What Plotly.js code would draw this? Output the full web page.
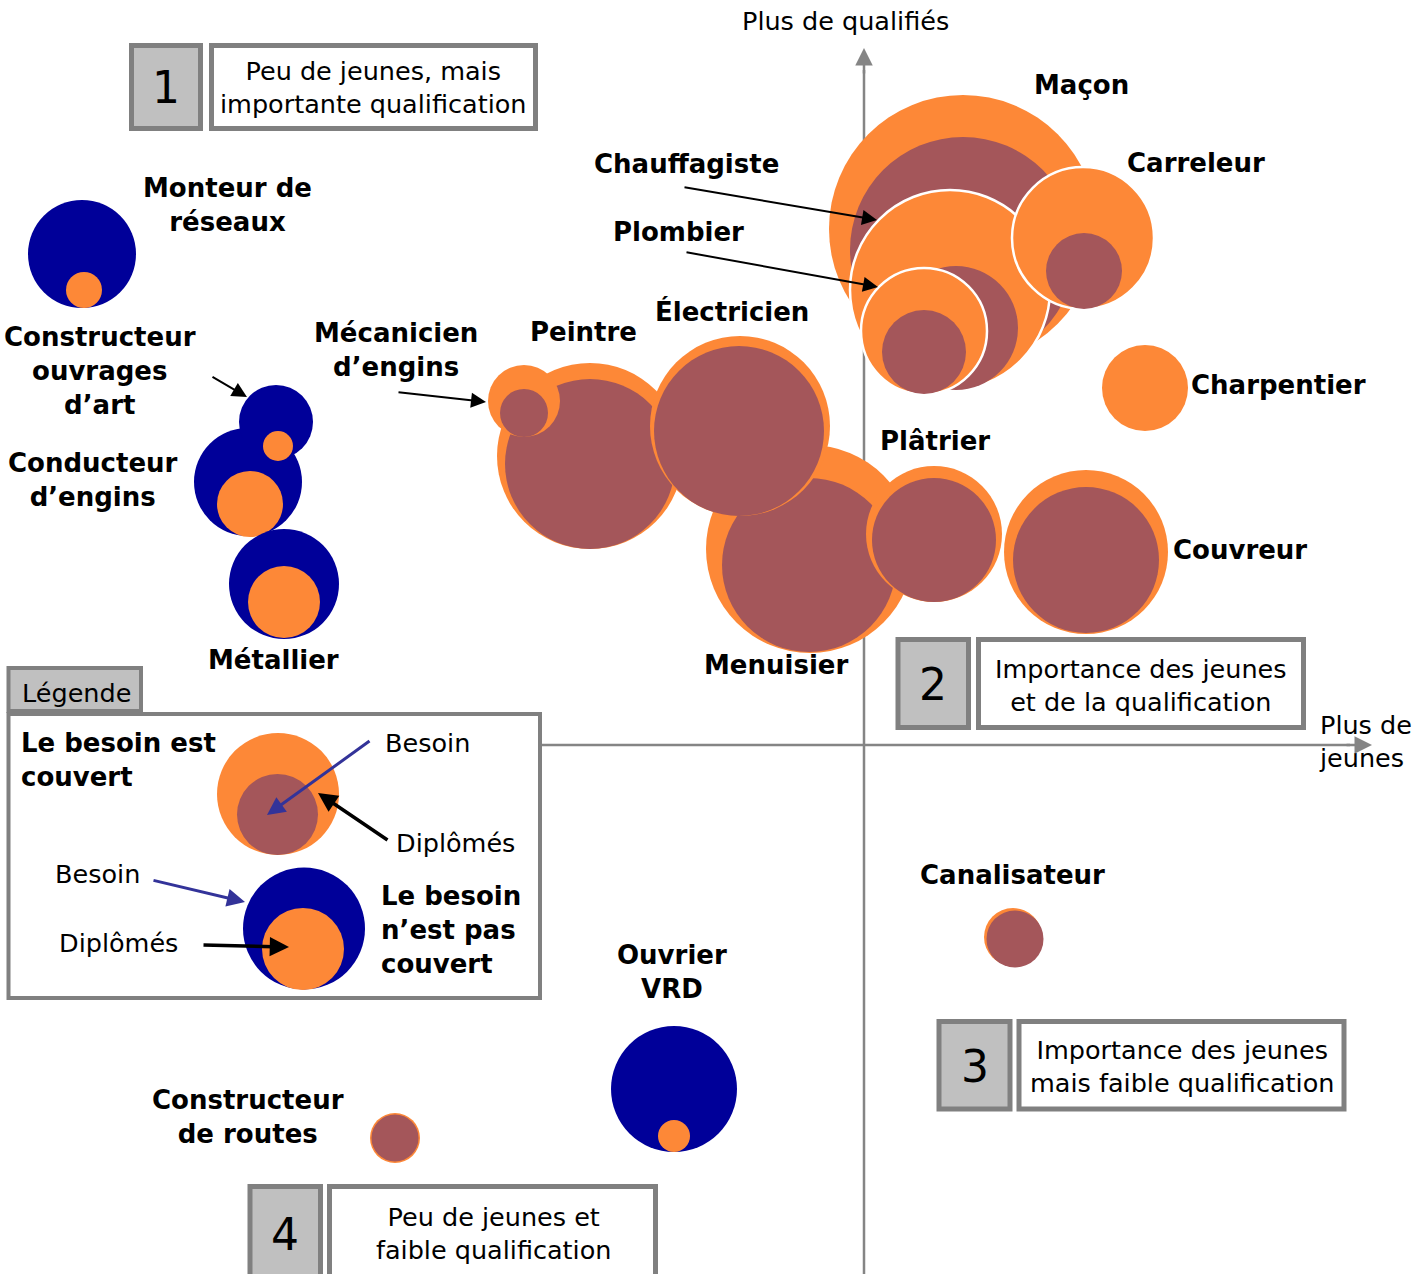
<!DOCTYPE html>
<html>
<head>
<meta charset="utf-8">
<script src="https://cdn.plot.ly/plotly-3.0.1.min.js"></script>
<style>body{margin:0;background:#fff}</style>
</head>
<body>
<div id="graphArea" style="width:1420px;height:1274px"></div>
<script>
// métiers, dans l'ordre de dessin (les derniers passent devant)
var metiers = ["Monteur de réseaux", "Conducteur d'engins", "Constructeur ouvrages d'art", "Métallier",
  "Peintre", "Mécanicien d'engins", "Menuisier", "Électricien", "Plâtrier", "Couvreur",
  "Maçon", "Chauffagiste", "Plombier", "Carreleur", "Charpentier",
  "Canalisateur", "Constructeur de routes", "Ouvrier VRD"];

// cercle "besoin" : x = importance des jeunes, y = qualification, r = rayon
var besoinX = [-782, -616, -588, -580, -274, -340, -55, -125, 70, 222, 99, 92, 60, 220, 281, 151, -469, -190];
var besoinY = [491, 263, 323, 161, 281, 332, 180, 314, 205, 185, 495, 417, 393, 474, 357, -194, -393, -344];
var besoinR = [54, 54, 37, 55, 85, 24, 87, 85, 62, 73, 113, 62, 42, 38, 0, 28.5, 23.5, 63];

// cercle "diplômés"
var diplX = [-780, -614, -586, -580, -274, -340, -54, -124, 70, 222, 99, 86, 60, 219, 281, 149, -469, -190];
var diplY = [455, 241, 299, 143, 289, 344, 196, 319, 211, 193, 516, 455, 414, 507, 357, -192, -393, -391];
var diplR = [18, 33, 15, 36, 93, 36, 104, 90, 68, 82, 134, 100, 63, 71, 43, 29, 25, 16];

// exemples de la légende (couvert / pas couvert)
var legBesoinX = [-586.5, -560];
var legBesoinY = [-69.5, -183.5];
var legBesoinR = [40.5, 61];
var legDiplX = [-586, -561];
var legDiplY = [-49, -204];
var legDiplR = [61, 41];

var contourBlanc = ["Chauffagiste", "Plombier", "Carreleur"];

var ORANGE = "#fd8837", BRUN = "#a4565a", BLEU = "#000099", GRIS = "#858585";
var FONT = "DejaVu Sans";

// position en pixels de la page -> coordonnées du graphique
function X(px) { return px - 864; }
function Y(py) { return 745 - py; }

function bulles(bx, by, br, dx, dy, dr, noms) {
  var t = {x: [], y: [], mode: "markers", type: "scatter", hoverinfo: "skip",
    marker: {size: [], color: [], opacity: 1, line: {color: [], width: []}}};
  bx.forEach(function(v, i) {
    var couvert = br[i] <= dr[i];
    var b = {x: bx[i], y: by[i], r: br[i], c: couvert ? BRUN : BLEU, w: 0};
    var d = {x: dx[i], y: dy[i], r: dr[i], c: ORANGE,
      w: (noms && contourBlanc.indexOf(noms[i]) >= 0) ? 2.5 : 0};
    var paire = couvert ? [d, b] : [b, d];
    paire.forEach(function(p) {
      if (p.r <= 0) return;
      t.x.push(p.x); t.y.push(p.y);
      t.marker.size.push(2 * p.r);
      t.marker.color.push(p.c);
      t.marker.line.color.push("#ffffff");
      t.marker.line.width.push(p.w);
    });
  });
  return t;
}

var data = [
  bulles(besoinX, besoinY, besoinR, diplX, diplY, diplR, metiers),
  bulles(legBesoinX, legBesoinY, legBesoinR, legDiplX, legDiplY, legDiplR, null)
];

function texte(t, px, py, taille, opts) {
  var a = {x: X(px), y: Y(py), xref: "x", yref: "y", text: t, showarrow: false,
    xanchor: "center", yanchor: "middle", align: "center",
    font: {family: FONT, size: taille, color: "#000"}};
  for (var k in (opts || {})) a[k] = opts[k];
  return a;
}
function fleche(x0, y0, x1, y1, couleur, w, s) {
  return {x: X(x1), y: Y(y1), ax: X(x0), ay: Y(y0), xref: "x", yref: "y", axref: "x", ayref: "y",
    text: "", showarrow: true, arrowhead: 2, arrowsize: s, arrowwidth: w, arrowcolor: couleur, standoff: 0};
}
function boite(x0, y0, x1, y1, fond, w) {
  return {type: "rect", xref: "x", yref: "y", x0: X(x0), y0: Y(y0), x1: X(x1), y1: Y(y1),
    fillcolor: fond, line: {color: "#808080", width: w}, layer: "below"};
}
function trait(x0, y0, x1, y1) {
  return {type: "line", xref: "x", yref: "y", x0: X(x0), y0: Y(y0), x1: X(x1), y1: Y(y1),
    line: {color: GRIS, width: 2.5}, layer: "below"};
}

var B = function(s) { return "<b>" + s + "</b>"; };
var L = 26, R = 25.5;

var annotations = [
  // étiquettes des métiers
  texte(B("Monteur de<br>réseaux"), 227, 205, L),
  texte(B("Constructeur<br>ouvrages<br>d’art"), 100, 371, L),
  texte(B("Conducteur<br>d’engins"), 93, 480, L),
  texte(B("Métallier"), 273, 660, L),
  texte(B("Mécanicien<br>d’engins"), 396, 350, L),
  texte(B("Peintre"), 583, 332, L),
  texte(B("Électricien"), 732, 311, L),
  texte(B("Chauffagiste"), 686, 164, L),
  texte(B("Plombier"), 678, 232, L),
  texte(B("Maçon"), 1081, 85, L),
  texte(B("Carreleur"), 1196, 163, L),
  texte(B("Charpentier"), 1189, 385, L, {xanchor: "left"}),
  texte(B("Plâtrier"), 935, 441, L),
  texte(B("Couvreur"), 1171, 550, L, {xanchor: "left"}),
  texte(B("Menuisier"), 776, 665, L),
  texte(B("Canalisateur"), 1012, 875, L),
  texte(B("Ouvrier<br>VRD"), 672, 972, L),
  texte(B("Constructeur<br>de routes"), 248, 1117, L),
  // axes
  texte("Plus de qualifiés", 845, 21, R),
  texte("Plus de<br>jeunes", 1317, 741, R, {xanchor: "left", align: "left"}),
  // quadrants
  texte("1", 166, 87, 44),
  texte("Peu de jeunes, mais<br>importante qualification", 373, 87, R),
  texte("2", 933, 684, 44),
  texte("Importance des jeunes<br>et de la qualification", 1141, 685, R),
  texte("3", 975, 1066, 44),
  texte("Importance des jeunes<br>mais faible qualification", 1182, 1066, R),
  texte("4", 285, 1234, 44),
  texte("Peu de jeunes et<br>faible qualification", 493, 1233, R),
  // légende
  texte("Légende", 20, 693, R, {xanchor: "left"}),
  texte(B("Le besoin est<br>couvert"), 19, 760, L, {xanchor: "left", align: "left"}),
  texte("Besoin", 383, 743, R, {xanchor: "left"}),
  texte("Diplômés", 394, 843, R, {xanchor: "left"}),
  texte("Besoin", 53, 874, R, {xanchor: "left"}),
  texte("Diplômés", 57, 943, R, {xanchor: "left"}),
  texte(B("Le besoin<br>n’est pas<br>couvert"), 379, 930, L, {xanchor: "left", align: "left"}),
  // pointes des axes
  fleche(864, 75, 864, 48, GRIS, 2.5, 1.4),
  fleche(1345, 745, 1372, 745, GRIS, 2.5, 1.4),
  // flèches
  fleche(211, 376, 247, 397, "#000", 2, 1.5),
  fleche(397, 392, 486, 402, "#000", 2, 1.5),
  fleche(683, 187, 877, 220, "#000", 2, 1.5),
  fleche(685, 252, 878, 287, "#000", 2, 1.5),
  fleche(371, 740, 267, 815, "#333399", 3, 1.2),
  fleche(389, 841, 318, 793, "#000", 3.5, 1.1),
  fleche(152, 880, 245, 902, "#333399", 3, 1.2),
  fleche(202, 945, 289, 947, "#000", 3.5, 1.1)
];

var shapes = [
  trait(864, 1274, 864, 70),
  trait(542, 745, 1350, 745),
  boite(131.5, 45.5, 200.5, 128.5, "#c0c0c0", 5),
  boite(211.5, 45.5, 535.5, 128.5, "#ffffff", 5),
  boite(898, 639.5, 968.5, 727.5, "#c0c0c0", 5),
  boite(978.5, 639.5, 1303.5, 727.5, "#ffffff", 5),
  boite(939, 1021.5, 1010, 1109, "#c0c0c0", 5),
  boite(1019, 1021.5, 1344, 1109, "#ffffff", 5),
  boite(250, 1186.5, 320.5, 1290, "#c0c0c0", 5),
  boite(329.5, 1186.5, 655.5, 1290, "#ffffff", 5),
  boite(8.5, 714, 540, 998, "#ffffff", 4),
  boite(8.5, 668, 141, 711, "#c0c0c0", 4)
];

var layout = {
  width: 1420, height: 1274,
  margin: {l: 0, r: 0, t: 0, b: 0},
  paper_bgcolor: "#ffffff", plot_bgcolor: "#ffffff",
  showlegend: false,
  xaxis: {range: [X(0), X(1420)], visible: false, fixedrange: true},
  yaxis: {range: [Y(1274), Y(0)], visible: false, fixedrange: true},
  annotations: annotations,
  shapes: shapes
};

Plotly.newPlot("graphArea", data, layout, {staticPlot: true});
</script>
</body>
</html>
